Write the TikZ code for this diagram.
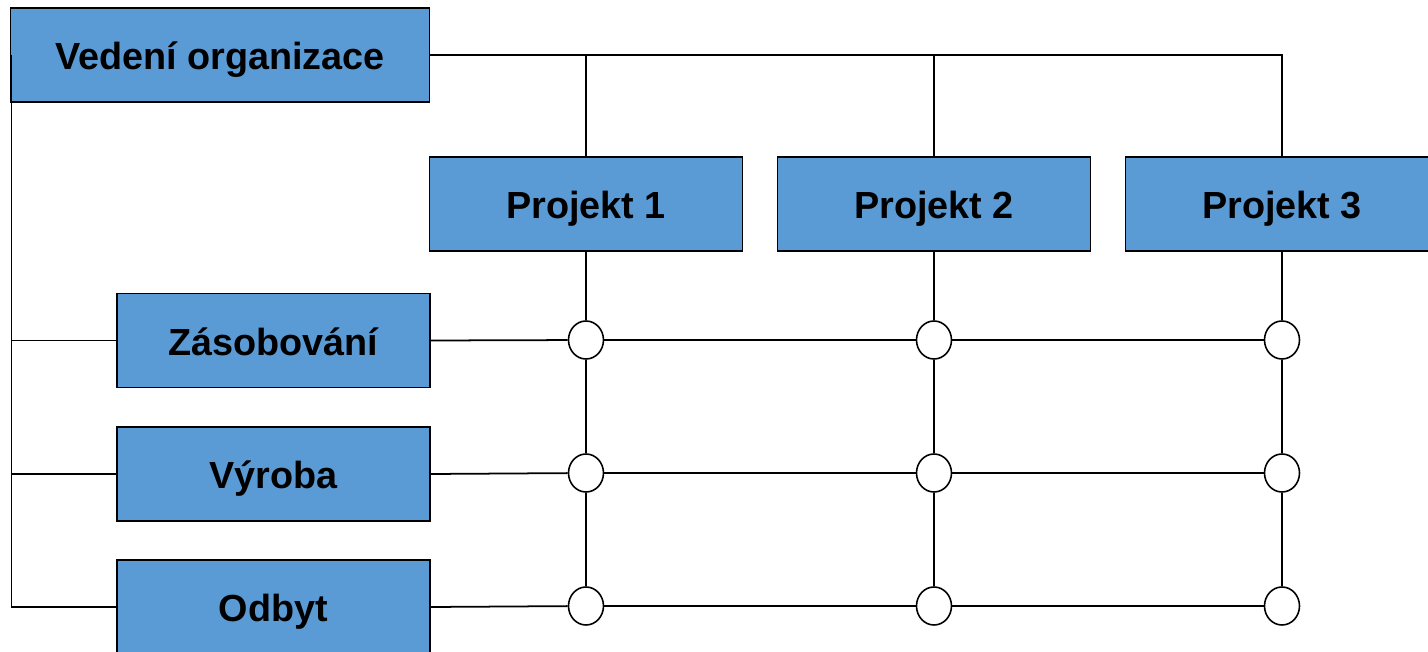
\documentclass[tikz,border=0pt]{standalone}
\usepackage{fontspec}
\setmainfont{Liberation Sans}
\usetikzlibrary{shapes.geometric}
\definecolor{modra}{RGB}{91,155,213}
\tikzstyle{matice}=[
    box/.style={rectangle, draw=black, line width=0.8pt, fill=modra, minimum height=1.88cm,
        text height=20pt, text depth=3pt,
        font={\fontsize{21.5}{26}\selectfont\bfseries}},
    uzel/.style={ellipse, draw=black, line width=0.9pt, fill=white, inner sep=0pt,
        minimum width=0.7cm, minimum height=0.76cm},
    linka/.style={black, line width=0.7pt},
    tlusta/.style={black, line width=1pt},
]

\begin{document}
\begin{tikzpicture}
[
    matice,
    x=0.02cm, y=-0.02cm
]
    \clip (0,0) rectangle (1428,652);

    % vedeni a utvary
    \node[box, minimum width=8.38cm] (vedeni) at (220,55) {Vedení organizace};
    \node[box, minimum width=6.26cm] (zas) at (273.5,340.5) {Zásobování};
    \node[box, minimum width=6.26cm] (vyr) at (273.5,474) {Výroba};
    \node[box, minimum width=6.26cm] (odb) at (273.5,607) {Odbyt};

    % projekty
    \foreach \n/\x in {1/586, 2/934, 3/1282}
        \node[box, minimum width=6.26cm] (p\n) at (\x,204) {Projekt \n};

    % uzly matice
    \foreach \n/\x in {1/586, 2/934, 3/1282}
        \foreach \r/\y in {1/340, 2/473, 3/606}
            \node[uzel] (c-\n-\r) at (\x,\y) {};

    % spojeni
    \draw[linka] (vedeni.east) -| (p3.north);
    \foreach \n in {1,2}
        \draw[linka] (p\n.north) |- (vedeni.east);
    \foreach \u in {zas,vyr,odb}
        \draw[linka] ([xshift=0.04cm]vedeni.west) |- (\u.west);

    \foreach \n in {1,2,3}
    {
        \draw[tlusta] (p\n.south) -- (c-\n-1);
        \draw[linka] (c-\n-1) -- (c-\n-2);
        \draw[linka] (c-\n-2) -- (c-\n-3);
    }

    \foreach \u/\r in {zas/1, vyr/2, odb/3}
    {
        \draw[tlusta] (\u.east) -- (c-1-\r);
        \draw[linka] (c-1-\r) -- (c-2-\r);
        \draw[linka] (c-2-\r) -- (c-3-\r);
    }

\end{tikzpicture}
\end{document}
